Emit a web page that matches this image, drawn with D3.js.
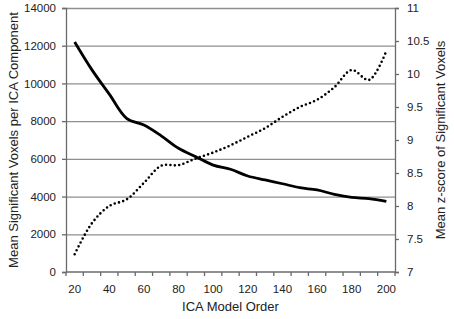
<!DOCTYPE html>
<html>
<head>
<meta charset="utf-8">
<script src="https://cdn.jsdelivr.net/npm/d3@7"></script>
<style>
  html, body { margin: 0; padding: 0; background: #fff; }
  svg text { font-family: "Liberation Sans", Arial, sans-serif; fill: #222; }
  .grid line { stroke: #8f8f8f; stroke-width: 1.3; }
  .grid .domain { display: none; }
  .axis .domain, .axis line { stroke: #6a6a6a; stroke-width: 1.3; }
</style>
</head>
<body>
<svg id="chart" width="454" height="319"></svg>
<script>
// ICA model order categories
const modelOrders = [20, 30, 40, 50, 60, 70, 80, 90, 100, 110, 120, 130, 140, 150, 160, 170, 180, 190, 200];
// Mean significant voxels per ICA component (left axis, solid)
const meanVoxels = [12200, 10720, 9430, 8150, 7790, 7220, 6560, 6110, 5670, 5450, 5090, 4880, 4680, 4470, 4350, 4120, 3960, 3890, 3750];
// Mean z-score of significant voxels (right axis, dotted)
const meanZ = [7.27, 7.74, 8.0, 8.1, 8.35, 8.61, 8.62, 8.72, 8.81, 8.92, 9.05, 9.18, 9.35, 9.5, 9.61, 9.8, 10.06, 9.91, 10.35];

const leftTicks = [0, 2000, 4000, 6000, 8000, 10000, 12000, 14000];
const rightTicks = [7, 7.5, 8, 8.5, 9, 9.5, 10, 10.5, 11];
const xLabelTicks = [20, 40, 60, 80, 100, 120, 140, 160, 180, 200];

const margin = { top: 8, right: 59, bottom: 47, left: 66 };
const svg = d3.select('#chart');
const width = 454 - margin.left - margin.right;
const height = 319 - margin.top - margin.bottom;

const g = svg.append('g')
    .attr('transform', `translate(${margin.left},${margin.top})`);

// Scales
const xScale = d3.scaleBand()
    .domain(modelOrders)
    .range([0, width]);

const xCenter = d => xScale(d) + xScale.bandwidth() / 2;

const yLeft = d3.scaleLinear()
    .domain([0, 14000])
    .range([height, 0]);

const yRight = d3.scaleLinear()
    .domain([7, 11])
    .range([height, 0]);

// Horizontal grid lines (from left axis)
g.append('g')
    .attr('class', 'grid')
    .call(d3.axisLeft(yLeft).tickValues(leftTicks.slice(1)).tickSize(-width).tickFormat(''));

// Left axis
const leftAxis = g.append('g')
    .attr('class', 'axis y-left')
    .call(d3.axisLeft(yLeft).tickValues(leftTicks).tickSize(4).tickPadding(6).tickFormat(d3.format('d')));
leftAxis.selectAll('text').style('font-size', '11.5px');

// Right axis
const rightAxis = g.append('g')
    .attr('class', 'axis y-right')
    .attr('transform', `translate(${width},0)`)
    .call(d3.axisRight(yRight).tickValues(rightTicks).tickSize(4).tickPadding(8).tickFormat(d => d));
rightAxis.selectAll('text').style('font-size', '11.5px');

// X axis: tick marks at category boundaries, labels at every other category
const boundaries = modelOrders.map(d => xScale(d)).concat([width]);
const xAxisG = g.append('g')
    .attr('class', 'axis x-axis')
    .attr('transform', `translate(0,${height})`);

xAxisG.append('line')
    .attr('x1', 0).attr('x2', width)
    .attr('y1', 0).attr('y2', 0)
    .attr('stroke', '#6a6a6a').attr('stroke-width', 1.3);

xAxisG.selectAll('.xtick')
    .data(boundaries)
    .join('line')
    .attr('class', 'xtick')
    .attr('x1', d => d).attr('x2', d => d)
    .attr('y1', 0).attr('y2', 4);

xAxisG.selectAll('.xlabel')
    .data(xLabelTicks)
    .join('text')
    .attr('class', 'xlabel')
    .attr('x', d => xCenter(d))
    .attr('y', 21)
    .attr('text-anchor', 'middle')
    .style('font-size', '11.5px')
    .text(d => d);

// Axis titles
g.append('text')
    .attr('x', width / 2)
    .attr('y', height + 39)
    .attr('text-anchor', 'middle')
    .style('font-size', '13px')
    .text('ICA Model Order');

g.append('text')
    .attr('transform', 'rotate(-90)')
    .attr('x', -height / 2)
    .attr('y', -margin.left + 18)
    .attr('text-anchor', 'middle')
    .style('font-size', '13px')
    .text('Mean Significant Voxels per ICA Component');

g.append('text')
    .attr('transform', 'rotate(-90)')
    .attr('x', -height / 2)
    .attr('y', width + 50)
    .attr('text-anchor', 'middle')
    .style('font-size', '13px')
    .text('Mean z-score of Significant Voxels');

// Lines
const voxelLine = d3.line()
    .x((d, i) => xCenter(modelOrders[i]))
    .y(d => yLeft(d))
    .curve(d3.curveCatmullRom.alpha(0.5));

const zLine = d3.line()
    .x((d, i) => xCenter(modelOrders[i]))
    .y(d => yRight(d))
    .curve(d3.curveCatmullRom.alpha(0.5));

g.append('path')
    .datum(meanZ)
    .attr('fill', 'none')
    .attr('stroke', '#000')
    .attr('stroke-width', 2.6)
    .attr('stroke-linecap', 'round')
    .attr('stroke-dasharray', '0,4.4')
    .attr('d', zLine);

g.append('path')
    .datum(meanVoxels)
    .attr('fill', 'none')
    .attr('stroke', '#000')
    .attr('stroke-width', 2.8)
    .attr('stroke-linejoin', 'round')
    .attr('d', voxelLine);
</script>
</body>
</html>
